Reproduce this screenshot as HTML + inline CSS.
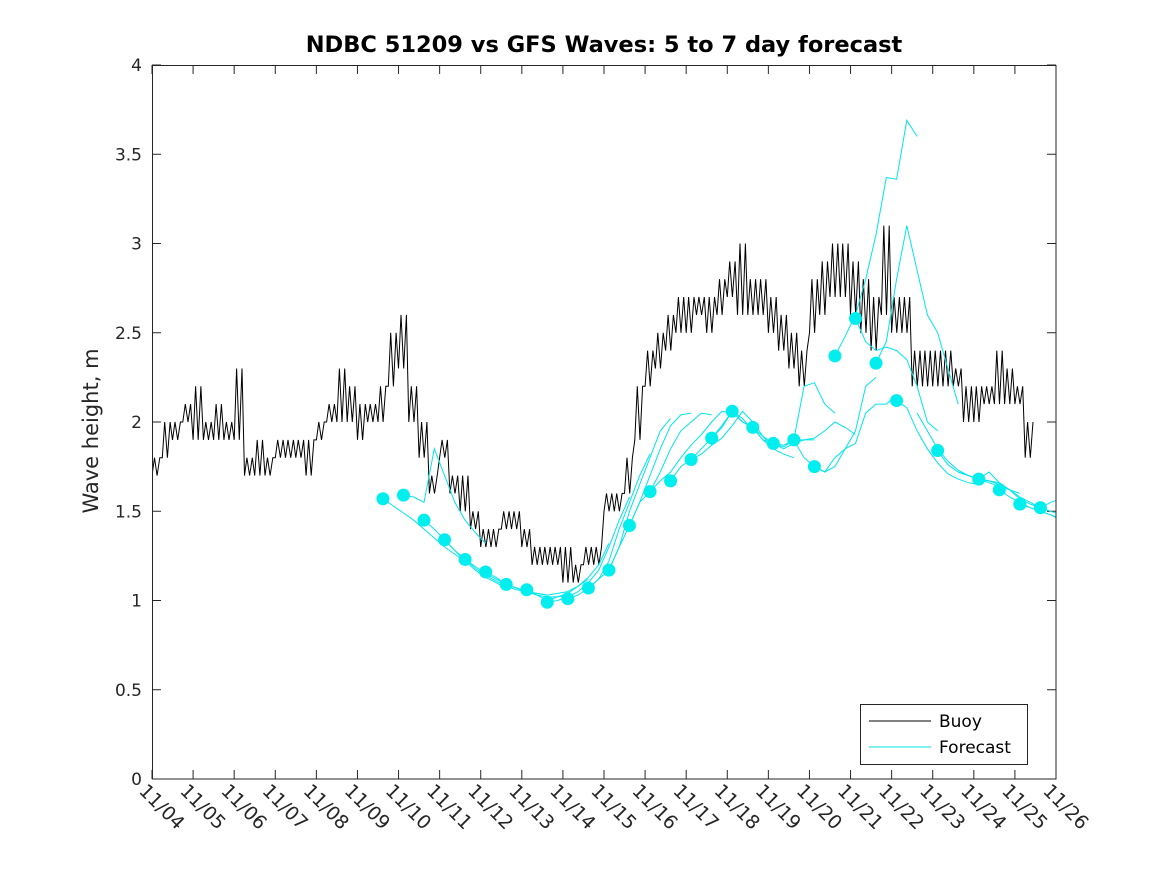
<!DOCTYPE html>
<html><head><meta charset="utf-8"><style>
html,body{margin:0;padding:0;background:#fff;}
svg{display:block;font-family:"DejaVu Sans","Liberation Sans",sans-serif;}
</style></head><body>
<svg id="chart" width="1167" height="875" viewBox="0 0 1167 875" xmlns="http://www.w3.org/2000/svg">
<rect width="1167" height="875" fill="#fff"/>
<text x="604" y="52" text-anchor="middle" font-size="22.5" font-weight="bold" fill="#000">NDBC 51209 vs GFS Waves: 5 to 7 day forecast</text>
<text transform="translate(98,431) rotate(-90)" text-anchor="middle" font-size="21" fill="#262626">Wave height, m</text>
<defs><clipPath id="plotclip"><rect x="152" y="65" width="904" height="714"/></clipPath></defs>
<g id="ticks"></g>
<g id="series" clip-path="url(#plotclip)"></g>
<rect x="152.5" y="65.5" width="903.5" height="713.5" fill="none" stroke="#262626" stroke-width="1"/>
<g>
<rect x="860.5" y="704.5" width="167" height="60" fill="#fff" stroke="#262626"/>
<line x1="869" y1="721" x2="931" y2="721" stroke="#000" stroke-width="1"/>
<text x="939" y="727" font-size="17" fill="#000">Buoy</text>
<line x1="869" y1="747" x2="931" y2="747" stroke="#00e5ee" stroke-width="1"/>
<text x="939" y="753" font-size="17" fill="#000">Forecast</text>
</g>
</svg>
<script>
const dateLabels=["11/04","11/05","11/06","11/07","11/08","11/09","11/10","11/11","11/12","11/13","11/14","11/15","11/16","11/17","11/18","11/19","11/20","11/21","11/22","11/23","11/24","11/25","11/26"];
const yTicks=[0,0.5,1,1.5,2,2.5,3,3.5,4];
const yTickLabels=["0","0.5","1","1.5","2","2.5","3","3.5","4"];
const buoyLo=[1.7,1.8,1.9,2.0,1.9,1.9,1.9,1.9,1.9,1.7,1.7,1.7,1.8,1.8,1.8,1.7,1.9,2.0,2.0,2.0,1.9,2.0,2.0,2.2,2.3,2.0,1.8,1.6,1.8,1.6,1.5,1.4,1.3,1.3,1.4,1.4,1.3,1.2,1.2,1.2,1.1,1.1,1.2,1.2,1.5,1.5,1.6,1.9,2.2,2.3,2.4,2.5,2.5,2.6,2.5,2.6,2.7,2.6,2.6,2.6,2.5,2.4,2.3,2.2,2.5,2.6,2.7,2.7,2.6,2.5,2.4,2.6,2.5,2.5,2.2,2.2,2.2,2.2,2.2,2.0,2.0,2.1,2.1,2.1,2.1,1.8];
const buoyHi=[1.8,2.0,2.0,2.1,2.2,2.0,2.1,2.0,2.3,1.8,1.9,1.8,1.9,1.9,1.9,1.9,2.0,2.1,2.3,2.2,2.1,2.1,2.2,2.5,2.6,2.2,2.0,1.7,1.9,1.7,1.7,1.5,1.4,1.4,1.5,1.5,1.4,1.3,1.3,1.3,1.3,1.2,1.3,1.3,1.6,1.6,1.8,2.2,2.4,2.5,2.6,2.7,2.7,2.7,2.7,2.8,2.9,3.0,2.8,2.8,2.7,2.6,2.5,2.4,2.8,2.9,3.0,3.0,2.9,2.8,2.7,3.1,2.7,2.7,2.4,2.4,2.4,2.4,2.3,2.2,2.2,2.2,2.4,2.3,2.2,2.0];
const dotValues=[1.57,1.59,1.45,1.34,1.23,1.16,1.09,1.06,0.99,1.01,1.07,1.17,1.42,1.61,1.67,1.79,1.91,2.06,1.97,1.88,1.90,1.75,2.37,2.58,2.33,2.12,null,1.84,null,1.68,1.62,1.54,1.52];
const runStarts=[0,1,2,3,4,5,6,7,8,9,10,11,12,13,14,15,16,17,18,19,20,21,22,23,24,25,26,27,28,29,30,31,32];
const runValues=[
[1.57,1.53,1.49,1.45,1.40,1.35,1.30,1.26,1.22],
[1.59,1.58,1.55,1.85,1.70,1.55,1.45,1.38,1.32],
[1.45,1.40,1.34,1.28,1.22,1.17,1.13,1.10,1.07],
[1.34,1.28,1.23,1.18,1.14,1.11,1.08,1.06,1.05],
[1.23,1.19,1.15,1.12,1.09,1.07,1.05,1.04,1.03],
[1.16,1.13,1.09,1.07,1.05,1.03,1.02,1.02,1.03],
[1.09,1.07,1.05,1.04,1.03,1.04,1.05,1.08,1.12],
[1.06,1.03,1.00,1.02,1.04,1.08,1.13,1.20,1.32],
[0.99,1.00,1.02,1.05,1.10,1.17,1.30,1.45,1.58],
[1.01,1.03,1.07,1.12,1.22,1.40,1.55,1.70,1.82],
[1.07,1.12,1.17,1.30,1.50,1.65,1.80,1.95,2.02],
[1.17,1.30,1.42,1.55,1.70,1.85,1.98,2.04,2.05],
[1.42,1.55,1.61,1.72,1.85,1.95,2.00,2.05,2.04],
[1.61,1.67,1.72,1.80,1.87,1.93,2.00,2.06,2.05],
[1.67,1.75,1.79,1.85,1.91,1.98,2.06,2.02,1.95],
[1.79,1.82,1.87,1.91,1.98,2.06,2.00,1.92,1.85],
[1.91,1.97,2.06,2.00,1.97,1.90,1.85,1.82,1.80],
[2.06,2.00,1.97,1.90,1.88,1.85,1.88,1.90,1.90],
[1.97,1.92,1.88,1.86,1.90,2.20,2.22,2.10,2.05],
[1.88,1.87,1.90,1.90,1.91,1.95,2.00,1.97,1.93],
[1.90,1.80,1.75,1.72,1.75,1.85,1.95,2.20,2.25],
[1.75,1.72,1.80,1.85,1.88,2.05,2.10,2.10,2.15],
[2.37,2.48,2.60,2.80,3.05,3.37,3.36,3.69,3.60],
[2.58,2.45,2.40,2.42,2.40,2.35,2.20,2.00,1.95],
[2.33,2.45,2.80,3.10,2.85,2.60,2.50,2.30,2.10],
[2.12,2.08,1.95,1.85,1.77,1.71,1.68,1.66,1.65],
[2.05,1.95,1.85,1.78,1.73,1.70,1.68,1.67,1.66],
[1.84,1.76,1.72,1.70,1.68,1.66,1.64,1.62,1.60],
[1.72,1.70,1.68,1.67,1.65,1.62,1.58,1.55,1.52],
[1.68,1.72,1.66,1.62,1.57,1.54,1.52,1.50,1.48],
[1.62,1.58,1.55,1.52,1.50,1.48,1.45,1.43,1.42],
[1.54,1.52,1.50,1.48,1.46,1.44,1.43,1.42,1.42],
[1.52,1.55,1.57,1.56,1.55]
];
const NS="http://www.w3.org/2000/svg";
const X0=152,X1=1056,Y0=779,Y1=65,DAYS=22,YMAX=4;
function xs(d){return X0+(X1-X0)*d/DAYS;}
function ys(v){return Y0-(Y0-Y1)*v/YMAX;}
function mk(tag,attrs,parent){const e=document.createElementNS(NS,tag);for(const k in attrs)e.setAttribute(k,attrs[k]);parent.appendChild(e);return e;}
const ticks=document.getElementById('ticks');
const series=document.getElementById('series');
dateLabels.forEach((lab,i)=>{
  const x=xs(i);
  const t1=mk('line',{x1:x,y1:Y0,x2:x,y2:Y0-9,stroke:'#262626'},ticks);
  
  
  const t2=mk('line',{x1:x,y1:Y1,x2:x,y2:Y1+9,stroke:'#262626'},ticks);
  
  
  const tx=mk('text',{x:0,y:0,'font-size':19,fill:'#262626',transform:`translate(${x-14},${Y0+13}) rotate(45)`},ticks);
  
  
  tx.textContent=lab;
});
yTicks.forEach((v,i)=>{
  const y=ys(v);
  const t1=mk('line',{x1:X0,y1:y,x2:X0+9,y2:y,stroke:'#262626'},ticks);
  
  
  const t2=mk('line',{x1:X1,y1:y,x2:X1-9,y2:y,stroke:'#262626'},ticks);
  
  
  const tx=mk('text',{x:X0-10,y:y+6,'text-anchor':'end','font-size':17,fill:'#262626'},ticks);
  
  
  tx.textContent=yTickLabels[i];
});
let pts=[];
buoyLo.forEach((lo,i)=>{
  const d=i/4, hi=buoyHi[i];
  pts.push([xs(d),ys(lo)]);pts.push([xs(d+0.06),ys(hi)]);
  pts.push([xs(d+0.125),ys(lo)]);pts.push([xs(d+0.19),ys(hi)]);
});
const bl=mk('polyline',{points:pts.map(p=>p[0].toFixed(1)+','+p[1].toFixed(1)).join(' '),fill:'none',stroke:'#000','stroke-width':1},series);


runValues.forEach((vals,r)=>{
  const sd=5.62+0.5*runStarts[r];
  const p=vals.map((v,j)=>xs(sd+0.25*j).toFixed(1)+','+ys(v).toFixed(1)).join(' ');
  const pl=mk('polyline',{points:p,fill:'none',stroke:'#00e5ee','stroke-width':1},series);
  
  
});
dotValues.forEach((v,k)=>{
  if(v===null)return;
  const c=mk('circle',{cx:xs(5.62+0.5*k),cy:ys(v),r:6.5,fill:'#00eeee'},series);
  
  
});
</script>
</body></html>
